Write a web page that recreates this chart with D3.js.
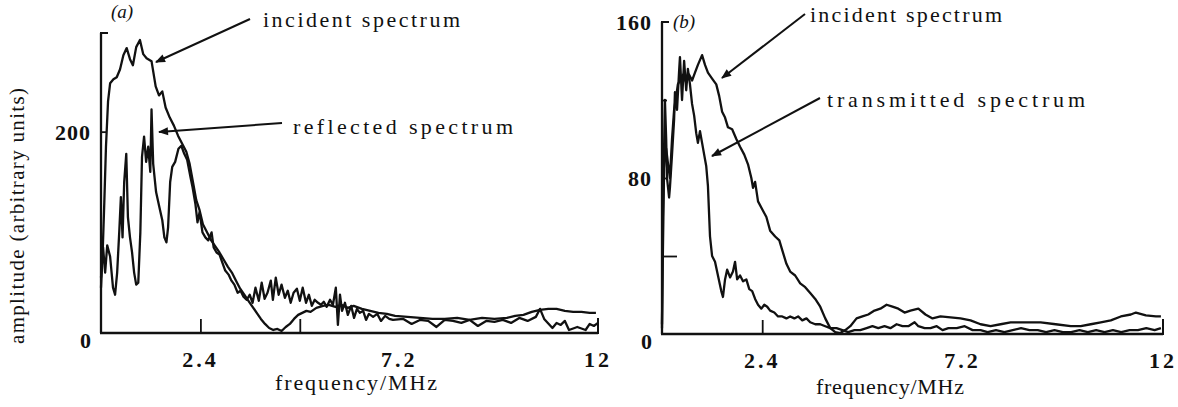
<!DOCTYPE html>
<html><head><meta charset="utf-8">
<script src="https://cdn.jsdelivr.net/npm/d3@7"></script>
<style>
html,body{margin:0;padding:0;background:#fff;}
svg{display:block;}
text{font-family:"Liberation Serif","DejaVu Serif",serif;fill:#111;}
</style></head>
<body>
<svg id="chart" width="1178" height="407"></svg>
<script>
// ---------- data (frequency MHz, amplitude arbitrary units) ----------
const incidentA = [[0,45],[0.04,80],[0.08,130],[0.12,185],[0.17,230],[0.22,248],[0.3,252],[0.38,254],[0.46,262],[0.54,276],[0.62,283],[0.7,272],[0.77,266],[0.85,284],[0.94,291],[1.02,277],[1.1,273],[1.22,270],[1.32,245],[1.4,236],[1.48,240],[1.56,224],[1.66,214],[1.76,206],[1.86,196],[1.96,188],[2.06,180],[2.14,168],[2.22,150],[2.3,132],[2.38,122],[2.46,108],[2.56,100],[2.66,92],[2.76,86],[2.86,80],[2.96,73],[3.06,66],[3.16,60],[3.26,52],[3.36,44],[3.46,38],[3.56,32],[3.66,26],[3.76,20],[3.86,14],[3.96,9],[4.06,5],[4.16,3],[4.26,4],[4.36,2],[4.46,6],[4.56,9],[4.66,14],[4.76,18],[4.86,20],[4.96,22],[5.06,21],[5.2,25],[5.36,27],[5.5,28],[5.66,26],[5.8,28],[5.96,25],[6.1,27],[6.3,24],[6.5,22],[6.7,20],[6.9,19],[7.1,17],[7.4,16],[7.7,15],[8.0,14],[8.3,14],[8.6,15],[8.9,13],[9.2,15],[9.5,14],[9.8,15],[10.0,17],[10.2,18],[10.4,21],[10.6,23],[10.8,24],[11.0,24],[11.2,22],[11.4,21],[11.6,21],[11.8,20],[11.95,20]];
const reflectedA = [[0,55],[0.05,85],[0.1,60],[0.15,87],[0.22,76],[0.29,45],[0.34,38],[0.39,60],[0.44,100],[0.48,135],[0.52,95],[0.56,150],[0.61,178],[0.65,115],[0.7,95],[0.75,80],[0.8,60],[0.85,48],[0.9,50],[0.95,100],[0.99,175],[1.04,195],[1.09,170],[1.14,185],[1.19,160],[1.22,222],[1.26,168],[1.33,140],[1.41,125],[1.48,112],[1.53,95],[1.58,90],[1.62,105],[1.67,150],[1.72,165],[1.79,170],[1.87,183],[1.94,186],[2.01,178],[2.08,172],[2.16,155],[2.21,145],[2.28,128],[2.33,110],[2.38,120],[2.45,100],[2.52,95],[2.59,92],[2.67,100],[2.72,85],[2.79,80],[2.86,78],[2.93,70],[3.0,62],[3.08,58],[3.15,52],[3.22,48],[3.3,40],[3.37,42],[3.44,36],[3.52,33],[3.59,38],[3.66,30],[3.73,45],[3.81,32],[3.88,50],[3.95,34],[4.02,40],[4.1,52],[4.15,33],[4.22,55],[4.29,38],[4.36,48],[4.44,35],[4.51,42],[4.58,30],[4.65,40],[4.73,44],[4.8,32],[4.87,45],[4.95,30],[5.02,38],[5.09,27],[5.16,33],[5.24,30],[5.31,28],[5.38,31],[5.45,26],[5.53,33],[5.6,28],[5.67,45],[5.72,8],[5.77,38],[5.82,22],[5.89,30],[5.96,18],[6.04,27],[6.11,15],[6.18,24],[6.25,20],[6.33,22],[6.4,13],[6.47,19],[6.57,16],[6.67,19],[6.76,12],[6.86,17],[6.96,14],[7.05,13],[7.3,14],[7.5,9],[7.7,13],[7.9,12],[8.1,6],[8.3,13],[8.5,12],[8.7,10],[8.9,13],[9.1,7],[9.3,12],[9.5,11],[9.7,13],[9.9,10],[10.1,15],[10.3,12],[10.5,16],[10.6,24],[10.7,14],[10.9,5],[11.0,10],[11.1,8],[11.2,12],[11.3,3],[11.5,6],[11.7,3],[11.8,9],[11.9,7],[12,10]];
const incidentB = [[0,5],[0.02,40],[0.05,85],[0.1,95],[0.14,88],[0.19,80],[0.24,100],[0.29,115],[0.34,122],[0.38,128],[0.43,130],[0.5,133],[0.58,129],[0.65,133],[0.72,130],[0.79,134],[0.86,138],[0.96,143],[1.03,138],[1.1,134],[1.2,131],[1.3,128],[1.37,122],[1.44,114],[1.51,111],[1.58,106],[1.68,105],[1.78,100],[1.87,96],[1.97,92],[2.06,87],[2.14,80],[2.18,75],[2.23,78],[2.3,68],[2.4,64],[2.5,60],[2.59,53],[2.71,50],[2.81,48],[2.88,43],[2.98,36],[3.07,32],[3.19,30],[3.31,26],[3.43,24],[3.55,21],[3.67,18],[3.79,14],[3.91,8],[4.03,3],[4.15,1],[4.27,0.5],[4.39,2],[4.51,4],[4.66,8],[4.8,9],[4.94,10],[5.09,12],[5.23,13],[5.38,15],[5.52,14],[5.66,13],[5.81,11],[5.95,12],[6.14,13],[6.31,10],[6.48,8],[6.67,9],[6.91,8.5],[7.15,8],[7.39,7],[7.63,5],[7.87,4],[8.11,5],[8.35,6],[8.71,6],[9.07,6],[9.43,5],[9.79,4],[10.03,4],[10.27,5],[10.51,6],[10.75,7],[10.99,9],[11.23,10],[11.35,11],[11.59,9.5],[11.83,9],[11.95,9]];
const transmittedB = [[0,3],[0.02,60],[0.05,95],[0.07,120],[0.1,100],[0.12,80],[0.17,70],[0.19,75],[0.24,92],[0.29,110],[0.31,124],[0.36,115],[0.41,135],[0.43,142],[0.48,120],[0.53,140],[0.58,125],[0.62,136],[0.67,128],[0.72,118],[0.77,112],[0.82,103],[0.86,98],[0.91,104],[0.96,98],[1.01,92],[1.06,86],[1.1,76],[1.15,50],[1.2,40],[1.27,37],[1.34,30],[1.42,22],[1.46,19],[1.51,28],[1.56,33],[1.63,29],[1.7,32],[1.75,37],[1.8,28],[1.87,30],[1.94,27],[2.02,28],[2.09,23],[2.16,22],[2.23,18],[2.3,15],[2.38,13],[2.45,15],[2.52,14],[2.59,12],[2.69,11],[2.78,9],[2.88,9],[2.98,8],[3.07,9],[3.17,8],[3.26,9],[3.36,7],[3.46,8],[3.55,6],[3.67,5],[3.79,5],[3.91,4],[4.03,3],[4.18,3],[4.32,2],[4.46,1],[4.61,2],[4.75,2],[4.9,3],[5.04,4],[5.18,3],[5.33,4],[5.47,3],[5.62,5],[5.76,4],[5.9,4],[6.05,6],[6.14,4],[6.29,3],[6.43,3],[6.58,4],[6.72,2],[6.86,3],[7.06,3],[7.25,4],[7.44,2],[7.63,2],[7.8,1],[8.0,2],[8.2,1],[8.4,2],[8.6,3],[8.8,2],[9.0,2],[9.2,1],[9.4,2],[9.6,1],[9.8,1],[10.0,2],[10.2,1],[10.4,2],[10.6,1],[10.8,2],[11.0,1],[11.2,2],[11.4,2],[11.6,3],[11.8,2],[11.95,3]];

const xTickLabels = ["2.4","7.2","12"];
const xTickValues = [2.4, 7.2, 12];
const xInnerTicksA = [2.4, 4.8];
const xInnerTicksB = [2.4];
const yLabelsA = [200];
const yLabelsB = [160, 80];
const yInnerTicksA = [200];
const yInnerTicksB = [120, 80];
const yLongTicksB = [40];
const xTitle = "frequency/MHz";
const yTitle = "amplitude (arbitrary units)";

// ---------- drawing ----------
const svg = d3.select("#chart");
const ink = "#111";

const panels = [
  {id:"a", x0:101, x1:598, yb:333, yt:33, ymax:298, series:[incidentA, reflectedA],
   yLabels:yLabelsA, yTicks:yInnerTicksA, longTicks:[], xInner:xInnerTicksA,
   tag:"(a)", tagX:122, tagY:18,
   notes:[{text:"incident spectrum", x:263, y:27, w:197, from:[250,19], to:[156,62]},
          {text:"reflected spectrum", x:293, y:134, w:220, from:[282,123], to:[159,132]}],
   titleX:356, titleY:390, titleW:162},
  {id:"b", x0:662, x1:1163, yb:334, yt:22, ymax:160, series:[incidentB, transmittedB],
   yLabels:yLabelsB, yTicks:yInnerTicksB, longTicks:yLongTicksB, xInner:xInnerTicksB,
   tag:"(b)", tagX:684, tagY:28,
   notes:[{text:"incident spectrum", x:810, y:22, w:192, from:[805,14], to:[722,78]},
          {text:"transmitted spectrum", x:827, y:107, w:258, from:[820,98], to:[712,156]}],
   titleX:890, titleY:394, titleW:148}
];

svg.append("defs").append("marker")
  .attr("id","arr").attr("viewBox","0 0 10 10").attr("refX",9).attr("refY",5)
  .attr("markerWidth",6).attr("markerHeight",5).attr("orient","auto")
  .append("path").attr("d","M0,1 L10,5 L0,9 Z").attr("fill",ink);

panels.forEach(p => {
  const x = d3.scaleLinear().domain([0,12]).range([p.x0, p.x1]);
  const y = d3.scaleLinear().domain([0,p.ymax]).range([p.yb, p.yt]);
  const g = svg.append("g");

  // curves
  const line = d3.line().x(d => x(d[0])).y(d => y(d[1]));
  p.series.forEach(s => {
    g.append("path").datum(s).attr("d", line)
      .attr("fill","none").attr("stroke",ink).attr("stroke-width",2.3)
      .attr("stroke-linejoin","round");
  });

  // axes frame
  g.append("g").attr("transform",`translate(${p.x0},0)`)
    .call(d3.axisLeft(y).tickValues(p.yTicks).tickSize(-5).tickFormat(""))
    .call(a => a.select(".domain").attr("d",`M0,${p.yb}V${p.yt}`).attr("stroke-width",2.3))
    .call(a => a.selectAll("line").attr("stroke-width",1.8));
  if (p.longTicks.length) {
    g.append("g").attr("transform",`translate(${p.x0},0)`)
      .call(d3.axisLeft(y).tickValues(p.longTicks).tickSize(-15).tickFormat(""))
      .call(a => a.select(".domain").remove())
      .call(a => a.selectAll("line").attr("stroke-width",1.8));
  }
  g.append("line").attr("x1",p.x0-1).attr("x2",p.x0+7).attr("y1",p.yt).attr("y2",p.yt)
    .attr("stroke",ink).attr("stroke-width",2);
  g.append("g").attr("transform",`translate(0,${p.yb})`)
    .call(d3.axisBottom(x).tickValues(p.xInner).tickSize(-14).tickFormat(""))
    .call(a => a.select(".domain").attr("d",`M${p.x0-1},0H${p.x1}`).attr("stroke-width",2.3))
    .call(a => a.selectAll("line").attr("stroke-width",1.8));
  g.append("line").attr("x1",p.x1).attr("x2",p.x1).attr("y1",p.yb+1).attr("y2",p.yb-15)
    .attr("stroke",ink).attr("stroke-width",2);
  svg.selectAll(".tick text").remove();
  svg.selectAll(".domain, .tick line").attr("stroke",ink);

  // tick labels
  g.selectAll(".xl").data(xTickValues).enter().append("text")
    .attr("x", d => x(d)).attr("y", p.yb + 34)
    .attr("text-anchor","middle").attr("font-size",22).attr("font-weight","bold")
    .attr("letter-spacing", 3)
    .text((d,i) => xTickLabels[i]);
  g.append("text").attr("x", p.x0 - 10).attr("y", p.yb + 15)
    .attr("text-anchor","end").attr("font-size",22).attr("font-weight","bold").text("0");
  g.selectAll(".yl").data(p.yLabels).enter().append("text")
    .attr("x", p.x0 - 10).attr("y", d => y(d) + 8)
    .attr("text-anchor","end").attr("font-size",22).attr("font-weight","bold")
    .attr("letter-spacing", 1)
    .text(d => d);

  // panel tag
  g.append("text").attr("x",p.tagX).attr("y",p.tagY).attr("text-anchor","middle")
    .attr("font-size",19).attr("font-style","italic").text(p.tag);

  // annotations
  p.notes.forEach(n => {
    g.append("line").attr("x1",n.from[0]).attr("y1",n.from[1]).attr("x2",n.to[0]).attr("y2",n.to[1])
      .attr("stroke",ink).attr("stroke-width",2).attr("marker-end","url(#arr)");
    g.append("text").attr("x",n.x).attr("y",n.y).attr("font-size",22)
      .attr("textLength",n.w).attr("lengthAdjust","spacing").text(n.text);
  });

  // x title
  g.append("text").attr("x",p.titleX).attr("y",p.titleY).attr("text-anchor","middle")
    .attr("font-size",22).attr("textLength",p.titleW).attr("lengthAdjust","spacing").text(xTitle);
});

// y title
svg.append("text").attr("transform","translate(24,216) rotate(-90)")
  .attr("text-anchor","middle").attr("font-size",21)
  .attr("textLength",256).attr("lengthAdjust","spacing").text(yTitle);
</script>
</body></html>
